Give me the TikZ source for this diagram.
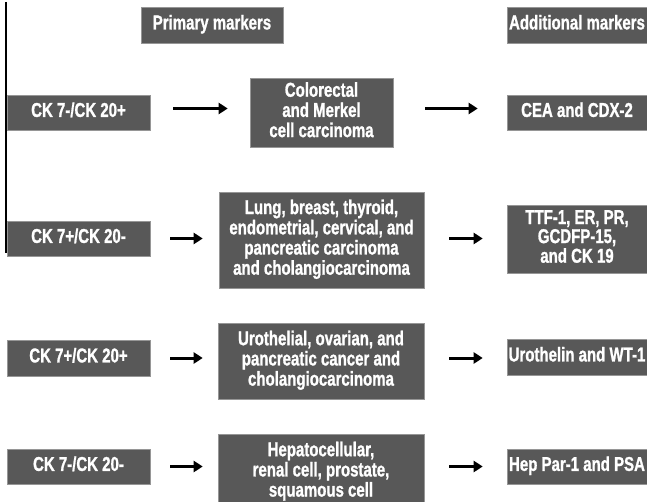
\documentclass[tikz,border=0pt]{standalone}
\usepackage{fontspec}
\newfontfamily\markerfont{Liberation Sans}[BoldFeatures={FakeBold=1.3}]
\usetikzlibrary{arrows.meta}

\definecolor{boxgray}{RGB}{88,88,88}
\definecolor{edgegray}{RGB}{150,150,150}

% narrow the bold text the way the figure does
\newcommand{\slim}[1]{\scalebox{0.75}[1]{\begin{tabular}{@{}c@{}}#1\end{tabular}}}

\tikzstyle{marker} = [draw=edgegray, line width=0.6pt, fill=boxgray, text=white, inner sep=0pt, align=center, font=\markerfont\bfseries\fontsize{20}{19}\selectfont]
\tikzstyle{arrow} = [-{Triangle[length=9pt,width=11pt]}, line width=3pt]

\begin{document}
\begin{tikzpicture}[x=1pt, y=-1pt]
  \useasboundingbox (0,0) rectangle (647,502);

  % headers
  \node[marker, minimum width=142pt, minimum height=36pt] (primary) at (212,25) {\slim{Primary markers}};
  \node[marker, minimum width=140pt, minimum height=36pt] (additional) at (577,25) {\slim{Additional markers}};

  % left column
  \node[marker, minimum width=143pt, minimum height=35pt] (ck1) at (78.5,112.5) {\slim{CK 7-/CK 20+}};
  \node[marker, minimum width=143pt, minimum height=35pt] (ck2) at (78.5,238.5) {\slim{CK 7+/CK 20-}};
  \node[marker, minimum width=143pt, minimum height=36pt] (ck3) at (78.5,358) {\slim{CK 7+/CK 20+}};
  \node[marker, minimum width=143pt, minimum height=35pt] (ck4) at (78.5,466.5) {\slim{CK 7-/CK 20-}};

  % middle column
  \node[marker, minimum width=143pt, minimum height=69pt] (car1) at (321.5,112.5) {\slim{Colorectal\\and Merkel\\cell carcinoma}};
  \node[marker, minimum width=205pt, minimum height=96pt] (car2) at (321.5,240) {\slim{Lung, breast, thyroid,\\endometrial, cervical, and\\pancreatic carcinoma\\and cholangiocarcinoma}};
  \node[marker, minimum width=206pt, minimum height=76pt] (car3) at (321,361) {\slim{Urothelial, ovarian, and\\pancreatic cancer and\\cholangiocarcinoma}};
  \node[marker, minimum width=206pt, minimum height=76pt] (car4) at (321,472) {\slim{Hepatocellular,\\renal cell, prostate,\\squamous cell}};

  % right column
  \node[marker, minimum width=140pt, minimum height=35pt] (add1) at (577,112.5) {\slim{CEA and CDX-2}};
  \node[marker, minimum width=140pt, minimum height=68pt, font=\markerfont\bfseries\fontsize{20}{17}\selectfont] (add2) at (577,239) {\slim{TTF-1, ER, PR,\\GCDFP-15,\\and CK 19}};
  \node[marker, minimum width=140pt, minimum height=36pt] (add3) at (577,357) {\slim{Urothelin and WT-1}};
  \node[marker, minimum width=140pt, minimum height=35pt] (add4) at (577,466.5) {\slim{Hep Par-1 and PSA}};

  \draw[line width=1.2pt] (6,2) -- (6,253);

  \draw[arrow, shorten <=23pt, shorten >=22pt] ([yshift=4pt]ck1.east) to ([yshift=4pt]car1.west);
  \draw[arrow, shorten <=32pt, shorten >=29pt] ([yshift=4pt]car1.east) to ([yshift=4pt]add1.west);

  \draw[arrow, shorten <=20pt, shorten >=16pt] (ck2.east) to (ck2.east -| car2.west);
  \draw[arrow, shorten <=25pt, shorten >=24pt] (car2.east |- ck2.east) to (ck2.east -| add2.west);

  \draw[arrow, shorten <=20pt, shorten >=15pt] (ck3.east) to (ck3.east -| car3.west);
  \draw[arrow, shorten <=25pt, shorten >=24pt] (car3.east |- ck3.east) to (ck3.east -| add3.west);

  \draw[arrow, shorten <=20pt, shorten >=15pt] (ck4.east) to (ck4.east -| car4.west);
  \draw[arrow, shorten <=25pt, shorten >=24pt] (car4.east |- ck4.east) to (ck4.east -| add4.west);

\end{tikzpicture}
\end{document}
